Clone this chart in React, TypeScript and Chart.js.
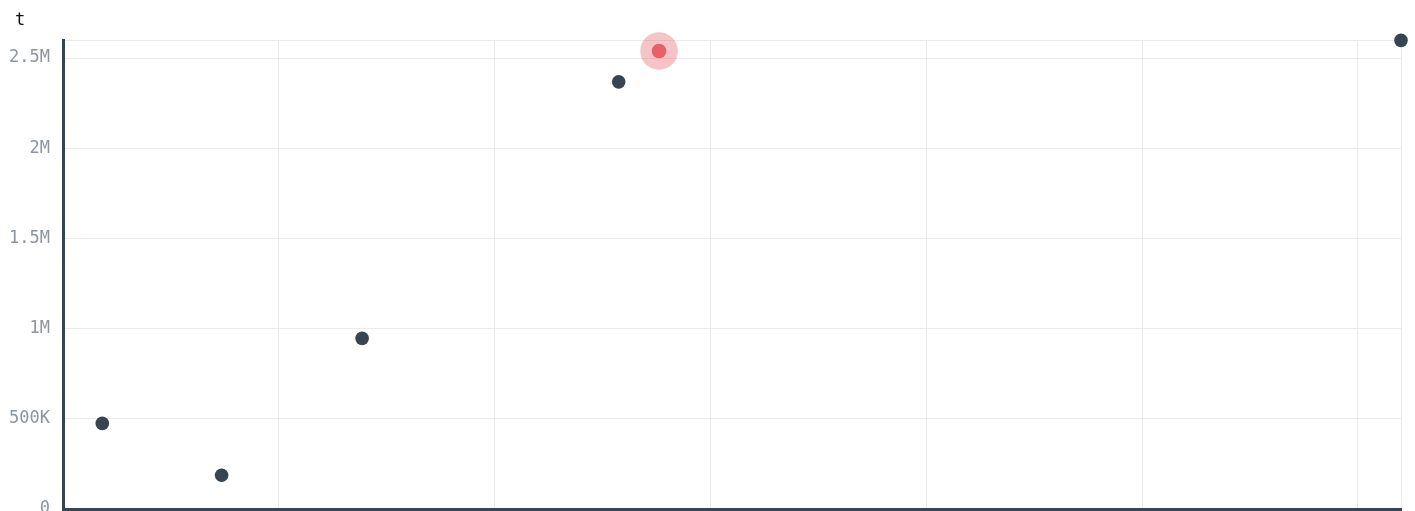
import React, { useEffect, useRef } from 'react';
import { Chart, registerables } from 'chart.js';

Chart.register(...registerables);

// ---- data ----
const X_VALUES = [0.182, 0.735, 1.386, 2.575, 2.762, 6.2];
const Y_VALUES = [474600, 187000, 946000, 2368000, 2539000, 2598000];
const HIGHLIGHT_INDEX = 4;
const Y_TICKS = [0, 500000, 1000000, 1500000, 2000000, 2500000, 2600000];
const Y_TICK_LABELS = ['0', '500K', '1M', '1.5M', '2M', '2.5M', ''];
const X_TICKS = [0, 1, 2, 3, 4, 5, 6, 6.2];
const TITLE = 't';

const DARK = '#36454f';
const RED = '#e8606a';
const HALO = 'rgba(232, 96, 106, 0.38)';
const GRID = '#ebebeb';

export default function App() {
  const ref = useRef<HTMLCanvasElement | null>(null);

  useEffect(() => {
    document.body.style.margin = '0';
    const canvas = ref.current;
    if (!canvas) return;

    const points = X_VALUES.map((x, i) => ({ x, y: Y_VALUES[i] }));
    const normal = points.filter((_, i) => i !== HIGHLIGHT_INDEX);
    const highlight = [points[HIGHLIGHT_INDEX]];

    const titlePlugin = {
      id: 'cornerTitle',
      afterDraw(chart: any) {
        const ctx = chart.ctx;
        ctx.save();
        ctx.font = '17px "DejaVu Sans Mono", monospace';
        ctx.fillStyle = '#111';
        ctx.textAlign = 'left';
        ctx.textBaseline = 'alphabetic';
        ctx.fillText(TITLE, 15, 25);
        ctx.restore();
      },
    };

    const chart = new Chart(canvas, {
      type: 'scatter',
      data: {
        datasets: [
          {
            data: highlight,
            backgroundColor: RED,
            borderColor: RED,
            pointRadius: 7.3,
            borderWidth: 0,
            clip: false,
            order: 1,
          },
          {
            data: highlight,
            backgroundColor: HALO,
            borderColor: HALO,
            pointRadius: 18.8,
            borderWidth: 0,
            clip: false,
            order: 2,
          },
          {
            data: normal,
            backgroundColor: DARK,
            borderColor: DARK,
            pointRadius: 6.8,
            borderWidth: 0,
            clip: false,
            order: 3,
          },
        ],
      },
      options: {
        animation: false,
        responsive: true,
        maintainAspectRatio: false,
        events: [],
        layout: { autoPadding: false, padding: { top: 40, right: 14, bottom: 2, left: 0 } },
        plugins: {
          legend: { display: false },
          tooltip: { enabled: false },
          title: { display: false },
        },
        scales: {
          x: {
            type: 'linear',
            min: 0,
            max: X_VALUES[X_VALUES.length - 1],
            afterBuildTicks: (scale: any) => {
              scale.ticks = X_TICKS.map((v) => ({ value: v }));
            },
            afterFit: (scale: any) => {
              scale.height = 0;
              scale.paddingLeft = 0;
              scale.paddingRight = 0;
            },
            ticks: { display: false },
            grid: { color: GRID, drawTicks: false, lineWidth: 1 },
            border: { color: DARK, width: 3 },
          },
          y: {
            type: 'linear',
            min: 0,
            max: Y_TICKS[Y_TICKS.length - 1],
            afterBuildTicks: (scale: any) => {
              scale.ticks = Y_TICKS.map((v) => ({ value: v }));
            },
            afterFit: (scale: any) => {
              scale.width = 63;
              scale.paddingTop = 0;
              scale.paddingBottom = 0;
            },
            ticks: {
              padding: 13,
              color: '#8c959d',
              font: { family: '"DejaVu Sans Mono", monospace', size: 17 },
              callback: (value: any) => {
                const idx = Y_TICKS.indexOf(Number(value));
                return idx >= 0 ? Y_TICK_LABELS[idx] : '';
              },
            },
            grid: { color: GRID, drawTicks: false, lineWidth: 1 },
            border: { color: DARK, width: 3 },
          },
        },
      },
      plugins: [titlePlugin],
    } as any);

    return () => chart.destroy();
  }, []);

  return (
    <div style={{ position: 'relative', width: 1415, height: 511 }}>
      <canvas ref={ref} />
    </div>
  );
}
